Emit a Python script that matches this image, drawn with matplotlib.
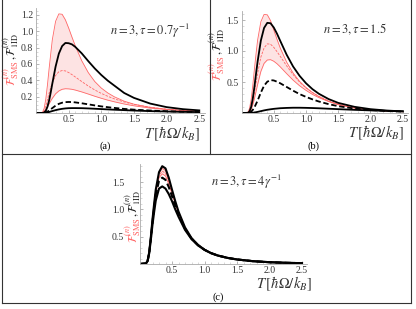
import matplotlib.pyplot as plt
import numpy as np
from matplotlib.lines import Line2D
from matplotlib.ticker import MultipleLocator

plt.rcParams['font.family'] = ['Liberation Serif', 'DejaVu Serif']
plt.rcParams['mathtext.fontset'] = 'stix'

# temperature grid (hbar Omega / k_B)
temps = [0, 0.1, 0.125, 0.15, 0.175, 0.2, 0.225, 0.25, 0.3, 0.35, 0.4, 0.45, 0.5, 0.55,
         0.6, 0.7, 0.8, 0.9, 1.0, 1.1, 1.2, 1.35, 1.5, 1.75, 2.0, 2.25, 2.5]

# (a) n = 3, tau = 0.7/gamma
a_red_hi = [0, 0.009, 0.057, 0.17, 0.34, 0.537, 0.72, 0.897, 1.122, 1.213, 1.208, 1.14, 1.04, 0.93,
            0.825, 0.64, 0.495, 0.385, 0.305, 0.245, 0.198, 0.145, 0.108, 0.068, 0.045, 0.031, 0.022]
a_red_mid = [0, 0.005, 0.03, 0.085, 0.16, 0.24, 0.31, 0.37, 0.46, 0.505, 0.52, 0.515, 0.495, 0.47,
             0.442, 0.385, 0.33, 0.282, 0.24, 0.204, 0.173, 0.135, 0.105, 0.07, 0.047, 0.032, 0.022]
a_red_lo = [0, 0.003, 0.015, 0.04, 0.075, 0.11, 0.147, 0.18, 0.235, 0.27, 0.29, 0.297, 0.295, 0.29,
            0.281, 0.258, 0.232, 0.205, 0.18, 0.157, 0.137, 0.11, 0.088, 0.06, 0.042, 0.03, 0.021]
a_blk_hi = [0, 0.0004, 0.006, 0.027, 0.075, 0.151, 0.25, 0.36, 0.568, 0.727, 0.819, 0.857, 0.854, 0.84,
            0.81, 0.73, 0.635, 0.545, 0.465, 0.395, 0.335, 0.245, 0.185, 0.115, 0.072, 0.047, 0.032]
a_blk_dash = [0, 0.0002, 0.002, 0.007, 0.016, 0.03, 0.045, 0.06, 0.09, 0.112, 0.126, 0.133, 0.135, 0.134,
              0.13, 0.119, 0.106, 0.093, 0.081, 0.071, 0.062, 0.05, 0.041, 0.03, 0.022, 0.016, 0.012]
a_blk_lo = [0, 0.0001, 0.001, 0.003, 0.007, 0.012, 0.018, 0.024, 0.035, 0.044, 0.051, 0.056, 0.059, 0.06,
            0.06, 0.059, 0.056, 0.052, 0.048, 0.044, 0.04, 0.035, 0.03, 0.023, 0.018, 0.014, 0.011]

# (b) n = 3, tau = 1.5
b_red_hi = [0, 0.012, 0.075, 0.222, 0.445, 0.704, 0.95, 1.176, 1.472, 1.59, 1.584, 1.49, 1.34, 1.19,
            1.05, 0.82, 0.645, 0.51, 0.41, 0.33, 0.265, 0.19, 0.135, 0.08, 0.05, 0.032, 0.021]
b_red_mid = [0, 0.003, 0.022, 0.08, 0.18, 0.32, 0.48, 0.64, 0.9, 1.05, 1.115, 1.11, 1.06, 0.99,
             0.915, 0.76, 0.62, 0.5, 0.405, 0.33, 0.268, 0.195, 0.14, 0.085, 0.052, 0.033, 0.021]
b_red_lo = [0, 0.003, 0.018, 0.06, 0.13, 0.23, 0.345, 0.46, 0.67, 0.8, 0.855, 0.86, 0.835, 0.795,
            0.745, 0.635, 0.53, 0.44, 0.365, 0.3, 0.248, 0.185, 0.135, 0.083, 0.051, 0.033, 0.021]
b_blk_hi = [0, 0.003, 0.026, 0.099, 0.232, 0.418, 0.63, 0.831, 1.168, 1.372, 1.454, 1.448, 1.38, 1.28,
            1.165, 0.94, 0.75, 0.6, 0.48, 0.385, 0.31, 0.225, 0.163, 0.1, 0.062, 0.04, 0.026]
b_blk_dash = [0, 0.001, 0.006, 0.02, 0.05, 0.09, 0.145, 0.2, 0.33, 0.44, 0.505, 0.53, 0.525, 0.505,
              0.48, 0.42, 0.36, 0.305, 0.26, 0.22, 0.185, 0.143, 0.11, 0.072, 0.048, 0.032, 0.022]
b_blk_lo = [0, 0, 0.0003, 0.0015, 0.004, 0.008, 0.013, 0.018, 0.03, 0.042, 0.052, 0.06, 0.067, 0.072,
            0.077, 0.082, 0.085, 0.085, 0.083, 0.08, 0.076, 0.069, 0.062, 0.051, 0.042, 0.034, 0.028]

# (c) n = 3, tau = 4/gamma
c_red_hi = [0, 0.01, 0.06, 0.218, 0.495, 0.81, 1.09, 1.35, 1.66, 1.75, 1.71, 1.54, 1.34, 1.135,
            0.95, 0.665, 0.473, 0.349, 0.262, 0.2, 0.157, 0.113, 0.083, 0.051, 0.033, 0.022, 0.015]
c_red_mid = [0, 0.01, 0.059, 0.215, 0.49, 0.8, 1.075, 1.33, 1.62, 1.70, 1.66, 1.5, 1.31, 1.12,
             0.94, 0.66, 0.47, 0.348, 0.261, 0.2, 0.157, 0.113, 0.083, 0.051, 0.033, 0.022, 0.015]
c_red_lo = [0, 0.01, 0.058, 0.21, 0.48, 0.79, 1.06, 1.3, 1.58, 1.65, 1.61, 1.46, 1.28, 1.1,
            0.93, 0.655, 0.468, 0.347, 0.261, 0.2, 0.157, 0.113, 0.083, 0.051, 0.033, 0.022, 0.015]
c_blk_hi = [0, 0.01, 0.06, 0.22, 0.5, 0.82, 1.1, 1.36, 1.68, 1.79, 1.75, 1.58, 1.36, 1.15,
            0.96, 0.67, 0.475, 0.35, 0.262, 0.2, 0.157, 0.113, 0.083, 0.051, 0.033, 0.022, 0.015]
c_blk_dash = [0, 0.01, 0.058, 0.21, 0.47, 0.77, 1.03, 1.27, 1.52, 1.58, 1.54, 1.41, 1.24, 1.07,
              0.91, 0.645, 0.465, 0.345, 0.26, 0.2, 0.157, 0.113, 0.083, 0.051, 0.033, 0.022, 0.015]
c_blk_lo = [0, 0.01, 0.055, 0.2, 0.45, 0.72, 0.95, 1.16, 1.38, 1.42, 1.38, 1.28, 1.15, 1.0,
            0.865, 0.625, 0.455, 0.34, 0.258, 0.198, 0.156, 0.113, 0.083, 0.051, 0.033, 0.022, 0.015]

xticks = [0.5, 1.0, 1.5, 2.0, 2.5]
red = '#ff6666'

W, H = 416, 309
fig = plt.figure(figsize=(W / 100, H / 100), dpi=100)


def panel(rect, curves, ytop, ymaj, yminor, note, note_xy, xlab_xy, ylab_xy, cap,
          blw=1.3, ypad=2):
    red_hi, red_mid, red_lo, blk_hi, blk_dash, blk_lo = curves
    ax = fig.add_axes(rect)
    ax.fill_between(temps, red_lo, red_hi, color='#fde3e3', lw=0)
    ax.plot(temps, red_hi, color=red, lw=0.6)
    ax.plot(temps, red_lo, color=red, lw=0.6)
    ax.plot(temps, red_mid, color=red, lw=0.6, dashes=(3, 1.5))
    ax.plot(temps, blk_hi, color='black', lw=blw)
    ax.plot(temps, blk_dash, color='black', lw=blw, dashes=(3, 1.5))
    ax.plot(temps, blk_lo, color='black', lw=blw)
    ax.set_xlim(0, 2.58)
    ax.set_ylim(0, ytop)
    for s in ['top', 'right']:
        ax.spines[s].set_visible(False)
    for s in ['left', 'bottom']:
        ax.spines[s].set_color('#aaaaaa')
        ax.spines[s].set_linewidth(0.6)
    ax.set_xticks(xticks)
    ax.set_xticklabels([f'{v:.1f}' for v in xticks])
    yt = np.arange(ymaj, ytop, ymaj)
    ax.set_yticks(yt)
    ax.set_yticklabels([f'{v:.1f}' for v in yt])
    ax.xaxis.set_minor_locator(MultipleLocator(0.1))
    ax.yaxis.set_minor_locator(MultipleLocator(yminor))
    ax.tick_params(which='major', direction='in', length=2.5, width=0.5, color='#999999',
                   labelsize=7, labelcolor='#333333', pad=1.5)
    ax.tick_params(axis='y', which='major', pad=ypad)
    ax.tick_params(which='minor', direction='in', length=1.3, width=0.4, color='#bbbbbb')
    ax.patch.set_alpha(0)
    ax.text(note_xy[0], note_xy[1], note, transform=ax.transAxes, ha='right', va='center',
            fontsize=9, color='#333333')
    ax.text(xlab_xy[0], xlab_xy[1], r'$T\,[\hbar\Omega/k_B]$', transform=ax.transAxes,
            ha='right', va='center', fontsize=10.5, color='#333333')
    ax.text(ylab_xy[0], ylab_xy[1], r'$\mathcal{F}^{(n)}_{\rm SMS}$', transform=ax.transAxes,
            rotation=90, ha='center', va='top', fontsize=8.5, color=red)
    ax.text(ylab_xy[0], ylab_xy[1], r'$,\mathcal{F}^{(n)}_{\rm 1ID}$', transform=ax.transAxes,
            rotation=90, ha='center', va='bottom', fontsize=8.5, color='#222222')
    fig.text(cap[0] / W, 1 - cap[1] / H, cap[2], ha='center', va='center', fontsize=7.5)
    return ax


panel([36 / W, 1 - 113 / H, 168.5 / W, 104.6 / H],
      (a_red_hi, a_red_mid, a_red_lo, a_blk_hi, a_blk_dash, a_blk_lo),
      1.28, 0.2, 0.05, r'$n = 3, \tau = 0.7\gamma^{-1}$', (0.915, 0.784),
      (0.975, -0.195), (-0.148, 0.51), (105, 146, '(a)'))
panel([241.5 / W, 1 - 113 / H, 166.4 / W, 102.3 / H],
      (b_red_hi, b_red_mid, b_red_lo, b_blk_hi, b_blk_dash, b_blk_lo),
      1.65, 0.5, 0.1, r'$n = 3, \tau = 1.5$', (0.875, 0.82),
      (0.98, -0.195), (-0.147, 0.57), (313, 146, '(b)'))
panel([139.5 / W, 1 - 264 / H, 167.7 / W, 100 / H],
      (c_red_hi, c_red_mid, c_red_lo, c_blk_hi, c_blk_dash, c_blk_lo),
      1.83, 0.5, 0.1, r'$n = 3, \tau = 4\gamma^{-1}$', (0.85, 0.82),
      (1.03, -0.2), (-0.037, 0.47), (218, 297, '(c)'), blw=1.5, ypad=11)

# frame lines around the sub-figures
def seg(x0, y0, x1, y1):
    fig.add_artist(Line2D([x0 / W, x1 / W], [1 - y0 / H, 1 - y1 / H],
                          transform=fig.transFigure, color='#333333', lw=0.8))


seg(1.5, 0, 1.5, 303)
seg(411, 0, 411, 303)
seg(1.5, 303, 411, 303)
seg(1.5, 154, 411, 154)
seg(210, 0, 210, 154)

fig.savefig('out.png', dpi=100)
